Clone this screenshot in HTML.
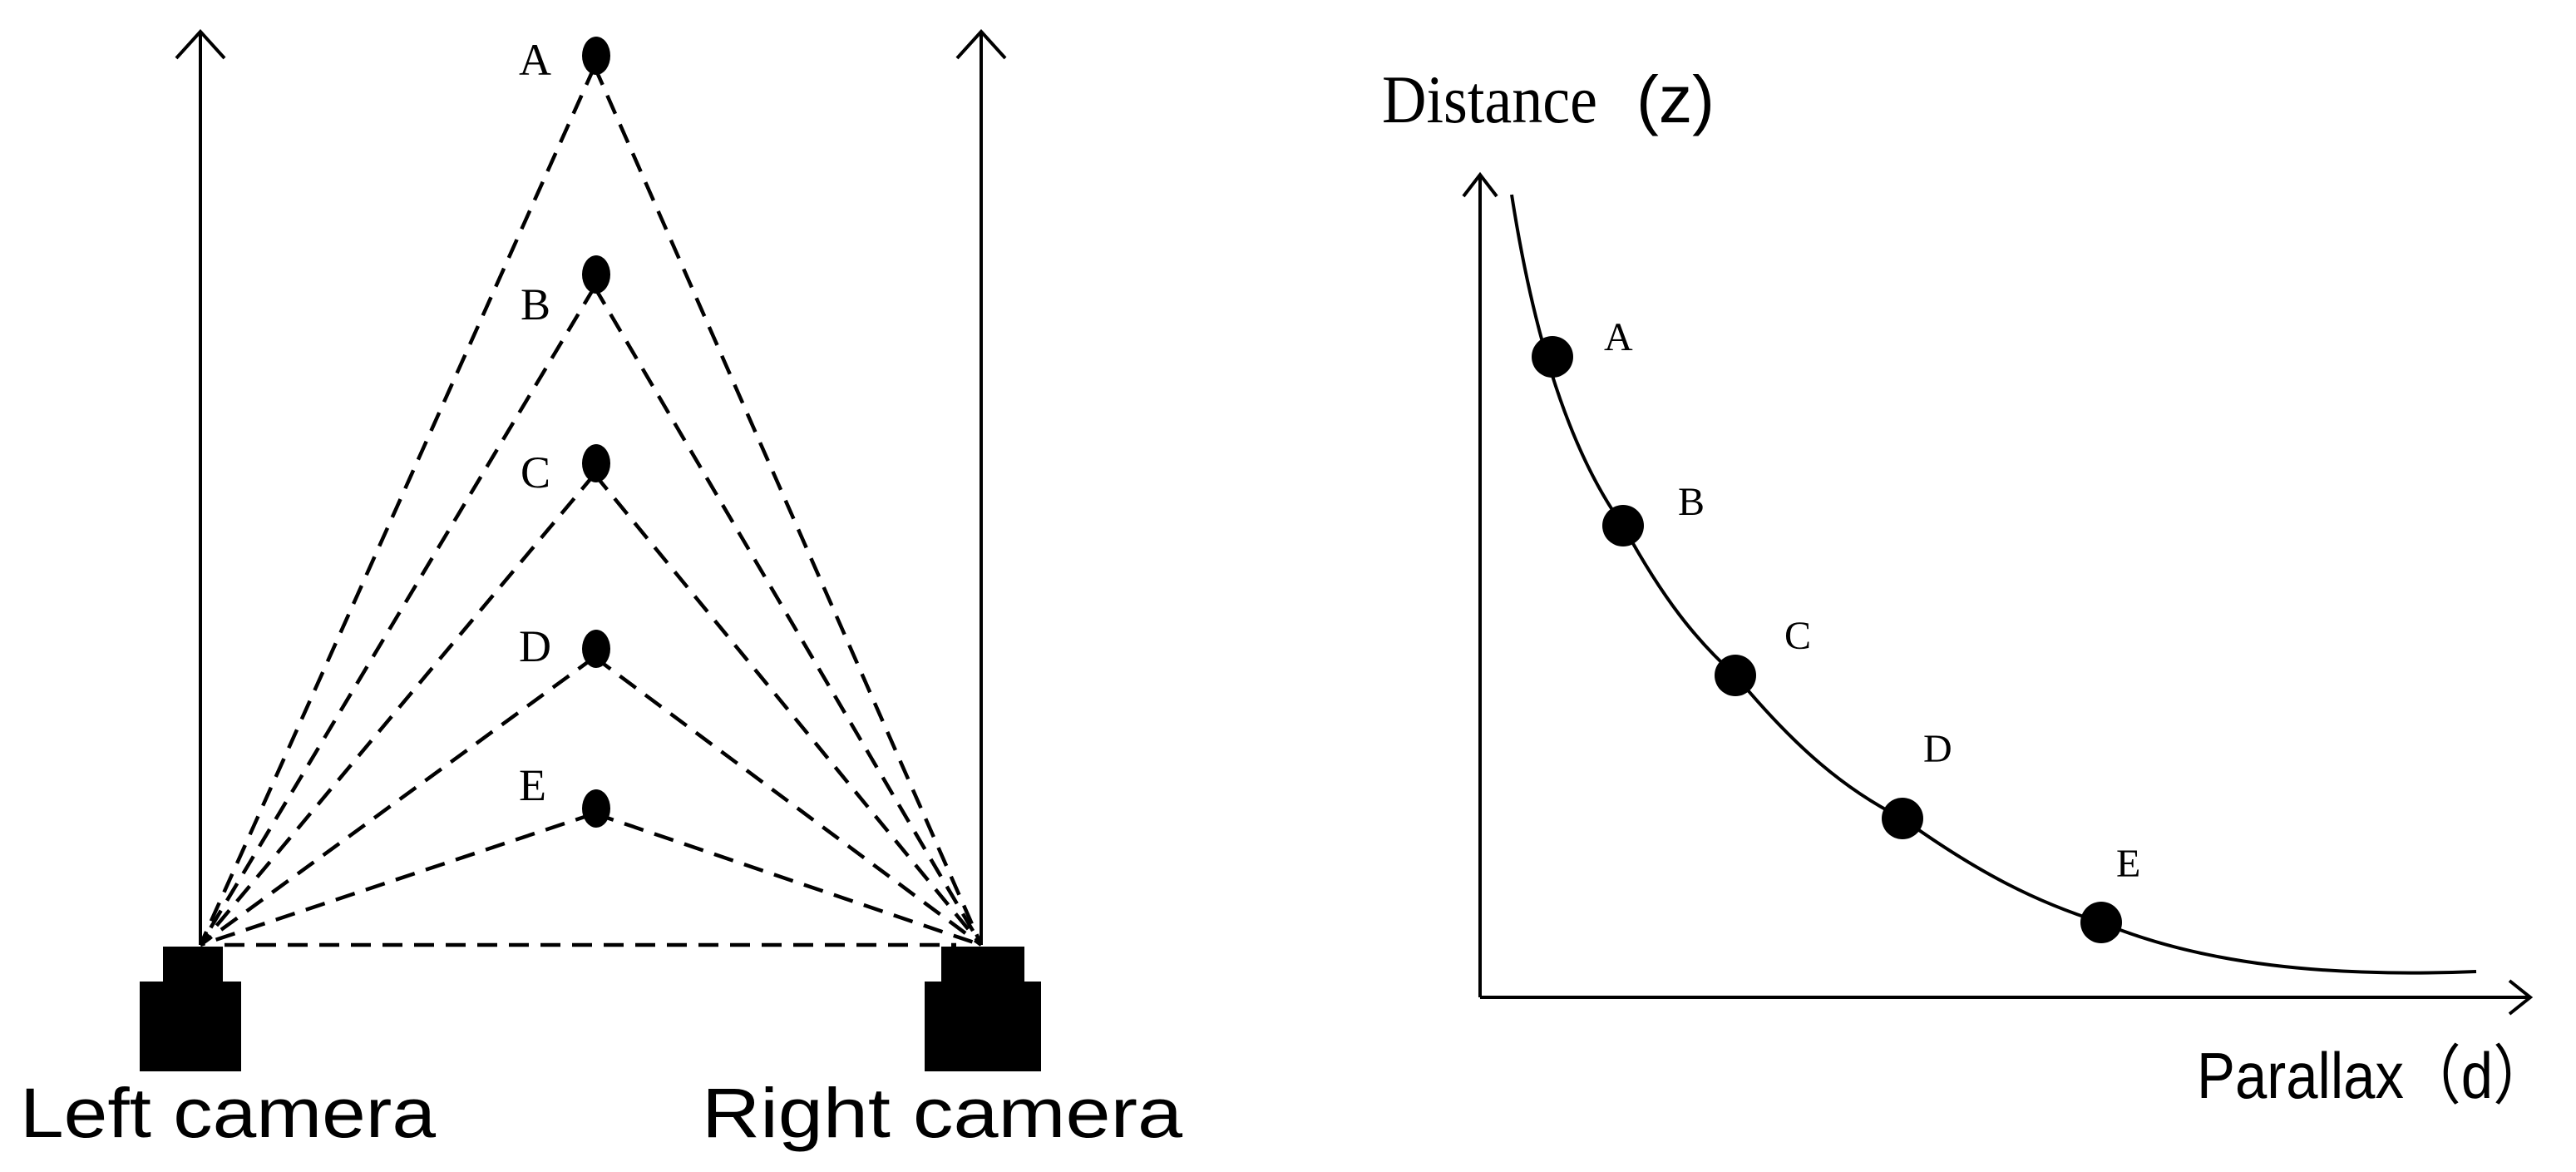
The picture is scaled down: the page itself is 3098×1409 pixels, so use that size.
<!DOCTYPE html>
<html><head><meta charset="utf-8"><style>
html,body{margin:0;padding:0;background:#fff}
svg{display:block}
</style></head><body>
<svg width="3098" height="1409" viewBox="0 0 3098 1409" xmlns="http://www.w3.org/2000/svg">
<rect width="3098" height="1409" fill="#fff"/>
<g stroke="#000" stroke-width="4" fill="none">
  <line x1="241" y1="1136" x2="241" y2="38"/>
  <polyline points="212,70 241,38 270,70"/>
  <line x1="1180" y1="1136" x2="1180" y2="38"/>
  <polyline points="1151,70 1180,38 1209,70"/>
</g>
<g stroke="#000" stroke-width="4.5" fill="none" stroke-dasharray="24,14">
  <line x1="715" y1="80" x2="241" y2="1136"/>
  <line x1="715" y1="80" x2="1180" y2="1136"/>
  <line x1="715" y1="345" x2="241" y2="1136"/>
  <line x1="715" y1="345" x2="1180" y2="1136"/>
  <line x1="715" y1="570" x2="241" y2="1136"/>
  <line x1="715" y1="570" x2="1180" y2="1136"/>
  <line x1="715" y1="790" x2="241" y2="1136"/>
  <line x1="715" y1="790" x2="1180" y2="1136"/>
  <line x1="715" y1="978" x2="241" y2="1136"/>
  <line x1="715" y1="978" x2="1180" y2="1136"/>
  <line x1="270" y1="1136" x2="1150" y2="1136"/>
</g>
<g fill="#000">
  <ellipse cx="717" cy="67" rx="17" ry="23"/>
  <ellipse cx="717" cy="330" rx="17" ry="23"/>
  <ellipse cx="717" cy="557" rx="17" ry="23"/>
  <ellipse cx="717" cy="780" rx="17" ry="23"/>
  <ellipse cx="717" cy="972" rx="17" ry="23"/>
  <rect x="196" y="1138" width="72" height="48"/>
  <rect x="168" y="1180" width="122" height="108"/>
  <rect x="1132" y="1138" width="100" height="48"/>
  <rect x="1112" y="1180" width="140" height="108"/>
</g>
<g font-family="Liberation Serif, serif" font-size="54" fill="#000">
  <text x="624" y="90">A</text>
  <text x="626" y="384">B</text>
  <text x="626" y="586">C</text>
  <text x="624" y="795">D</text>
  <text x="624" y="962">E</text>
</g>
<g font-family="Liberation Sans, sans-serif" font-size="84" fill="#000">
  <text x="24" y="1367" textLength="500" lengthAdjust="spacingAndGlyphs">Left camera</text>
  <text x="844" y="1367" textLength="578" lengthAdjust="spacingAndGlyphs">Right camera</text>
</g>
<g stroke="#000" stroke-width="4" fill="none">
  <line x1="1780" y1="1199" x2="1780" y2="210"/>
  <polyline points="1760,236 1780,210 1800,236"/>
  <line x1="1780" y1="1199" x2="3043" y2="1199"/>
  <polyline points="3018,1179 3043,1199 3018,1219"/>
  <path d="M1818,234 C1850,440 1900,560 1952,632 C2000,720 2040,770 2087,812 C2160,900 2220,950 2288,984 C2380,1050 2450,1085 2527,1109 C2650,1160 2800,1175 2978,1168"/>
</g>
<g fill="#000">
  <circle cx="1867" cy="429" r="25"/>
  <circle cx="1952" cy="632" r="25"/>
  <circle cx="2087" cy="812" r="25"/>
  <circle cx="2288" cy="984" r="25"/>
  <circle cx="2527" cy="1109" r="25"/>
</g>
<g font-family="Liberation Serif, serif" font-size="48" fill="#000">
  <text x="1929" y="421">A</text>
  <text x="2018" y="619">B</text>
  <text x="2146" y="780">C</text>
  <text x="2313" y="916">D</text>
  <text x="2545" y="1054">E</text>
</g>
<text x="1662" y="147" font-family="Liberation Serif, serif" font-size="82" fill="#000" textLength="259" lengthAdjust="spacingAndGlyphs">Distance</text>
<text x="1968" y="147" font-family="Liberation Sans, sans-serif" font-size="80" fill="#000" textLength="94" lengthAdjust="spacingAndGlyphs">(z)</text>
<text x="2642" y="1320" font-family="Liberation Sans, sans-serif" font-size="78" fill="#000" textLength="425" lengthAdjust="spacingAndGlyphs">Parallax（d）</text>
</svg>
</body></html>
